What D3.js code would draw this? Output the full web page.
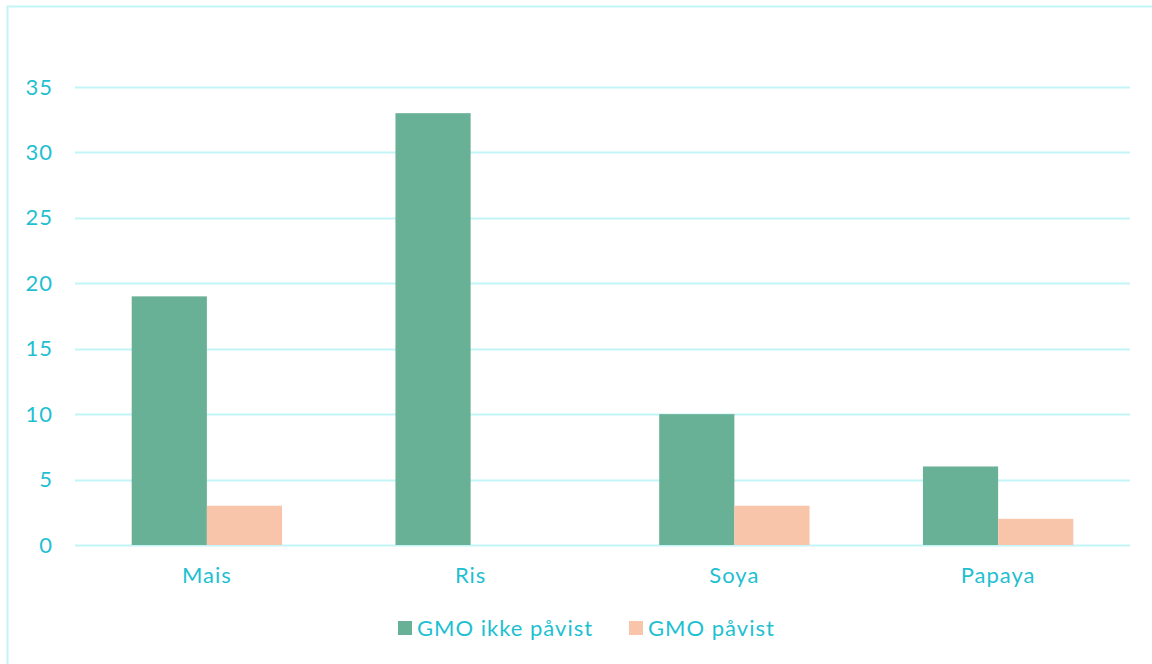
<!DOCTYPE html>
<html>
<head>
<meta charset="utf-8">
<script src="https://cdn.jsdelivr.net/npm/d3@7"></script>
<style>
  html, body { margin: 0; padding: 0; background: #fff; }
  svg { display: block; }
  text { font-family: Lato, "Open Sans", sans-serif; letter-spacing: 1px; }
</style>
</head>
<body>
<svg id="chart" width="1152" height="664"></svg>
<script>
// Antall prøver per vare, fordelt på analyseresultat
const categories = ["Mais", "Ris", "Soya", "Papaya"];
const seriesNames = ["GMO ikke påvist", "GMO påvist"];
const notDetected = [19, 33, 10, 6];
const detected = [3, 0, 3, 2];
const yTicks = [0, 5, 10, 15, 20, 25, 30, 35];

const colors = ["#69B196", "#F8C4AA"];
const textColor = "#1FBFD2";
const gridColor = "#C2F4F8";
const fontFamily = "Lato, 'Open Sans', sans-serif";

const svg = d3.select("#chart");
const W = 1152, H = 664;
const margin = { left: 75, right: 22, top: 87, bottom: 119 };

// frame around the chart area
svg.append("rect")
  .attr("x", 7.5).attr("y", 6.5)
  .attr("width", W + 20).attr("height", H + 20)
  .attr("fill", "none").attr("stroke", gridColor).attr("stroke-width", 2);

const x0 = d3.scaleBand()
  .domain(categories)
  .range([margin.left, W - margin.right])
  .paddingInner(0.43).paddingOuter(0.215);

const x1 = d3.scaleBand()
  .domain(seriesNames)
  .range([0, x0.bandwidth()]);

const y = d3.scaleLinear()
  .domain([0, 35])
  .range([H - margin.bottom, margin.top]);

// horizontal gridlines
svg.append("g")
  .selectAll("line")
  .data(yTicks)
  .join("line")
  .attr("x1", margin.left).attr("x2", W - margin.right)
  .attr("y1", d => Math.round(y(d)) + 0.5).attr("y2", d => Math.round(y(d)) + 0.5)
  .attr("stroke", gridColor).attr("stroke-width", 2);

// y axis labels
const yAxis = svg.append("g")
  .attr("transform", `translate(${margin.left - 22},0)`)
  .call(d3.axisLeft(y).tickValues(yTicks).tickSize(0).tickPadding(0));
yAxis.select(".domain").remove();
yAxis.selectAll("text")
  .attr("fill", textColor)
  .attr("font-size", 22)
  .attr("font-family", fontFamily);

// bars
const rows = categories.map((c, i) => ({ cat: c, values: [notDetected[i], detected[i]] }));
const groups = svg.append("g")
  .selectAll("g")
  .data(rows)
  .join("g")
  .attr("transform", d => `translate(${x0(d.cat)},0)`);

groups.selectAll("rect")
  .data(d => d.values.map((v, j) => ({ name: seriesNames[j], value: v, j })))
  .join("rect")
  .attr("x", d => x1(d.name))
  .attr("y", d => y(d.value))
  .attr("width", x1.bandwidth())
  .attr("height", d => y(0) - y(d.value))
  .attr("fill", d => colors[d.j]);

// category labels
const xAxis = svg.append("g")
  .attr("transform", `translate(0,${y(0) + 22})`)
  .call(d3.axisBottom(x0).tickSize(0).tickPadding(0));
xAxis.select(".domain").remove();
xAxis.selectAll("text")
  .attr("fill", textColor)
  .attr("font-size", 22)
  .attr("font-family", fontFamily)
  .attr("dy", "0.71em");

// legend
const legend = svg.append("g").attr("transform", "translate(398,621)");
const legendX = [0, 231];
seriesNames.forEach((name, i) => {
  const g = legend.append("g").attr("transform", `translate(${legendX[i]},0)`);
  g.append("rect").attr("width", 14).attr("height", 14).attr("fill", colors[i]);
  g.append("text")
    .attr("x", 19).attr("y", 7)
    .attr("dy", "0.36em")
    .attr("fill", textColor)
    .attr("font-size", 22)
    .text(name);
});
</script>
</body>
</html>
